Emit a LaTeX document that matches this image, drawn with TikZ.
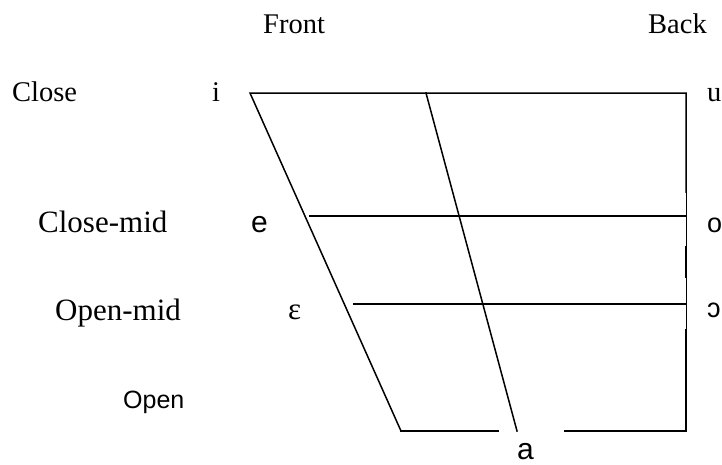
\documentclass[tikz,border=0pt]{standalone}
\usepackage{fontspec}
\setmainfont{Liberation Serif}
\setsansfont{Liberation Sans}
\begin{document}
\begin{tikzpicture}[x=1pt,y=-1pt,
	serif/.style={inner sep=0pt,anchor=base west,font=\fontsize{28.5}{34}\selectfont},
	bigserif/.style={serif,font=\fontsize{31}{37}\selectfont},
	sans/.style={inner sep=0pt,anchor=base west,font=\sffamily\fontsize{27}{32}\selectfont},
	chart/.style={line width=1.5pt,line cap=rect},
	thin/.style={line width=0.8pt}]
	\useasboundingbox (0,0) rectangle (722,464);
	% column and row labels
	\node[serif] (front) at (263,33) {Front};
	\node[serif] (back) at (648,33) {Back};
	\node[serif] (close) at (12,101) {Close};
	\node[bigserif] (closemid) at (38,232) {Close-mid};
	\node[bigserif] (openmid) at (55,320) {Open-mid};
	\node[sans,font=\sffamily\fontsize{25}{30}\selectfont] (open) at (123,408) {Open};
	% vowels
	\node[serif] (i) at (212,101) {i};
	\node[serif] (u) at (707,101) {u};
	\node[sans,font=\sffamily\fontsize{30}{36}\selectfont] (e) at (251,232) {e};
	\node[sans] (o) at (707,232) {o};
	\node[bigserif] (eps) at (288,319) {ε};
	\node[sans] (oo) at (707,317) {ɔ};
	\node[sans,font=\sffamily\fontsize{30}{36}\selectfont] (a) at (517,459) {a};
	% corners of the chart
	\coordinate (tl) at (250,93);
	\coordinate (tr) at (686,93);
	\coordinate (bl) at (401,431);
	\coordinate (br) at (686,431);
	\coordinate (mt) at (426,93);
	\coordinate (mb) at (517,431);
	\draw[chart] (bl) -- (tl) -- (tr) -- (686,192);
	\draw[thin] (686,192) -- (686,247);
	\draw[chart] (686,247) -- (686,277);
	\draw[thin] (686,277) -- (686,330);
	\draw[chart] (686,330) -- (br) -- (565,431);
	\draw[chart] (bl) -- (498,431);
	\draw[chart] (mt) -- (mb);
	\draw[chart] (310,216) -- (686,216);
	\draw[chart] (354,304) -- (686,304);
\end{tikzpicture}
\end{document}
